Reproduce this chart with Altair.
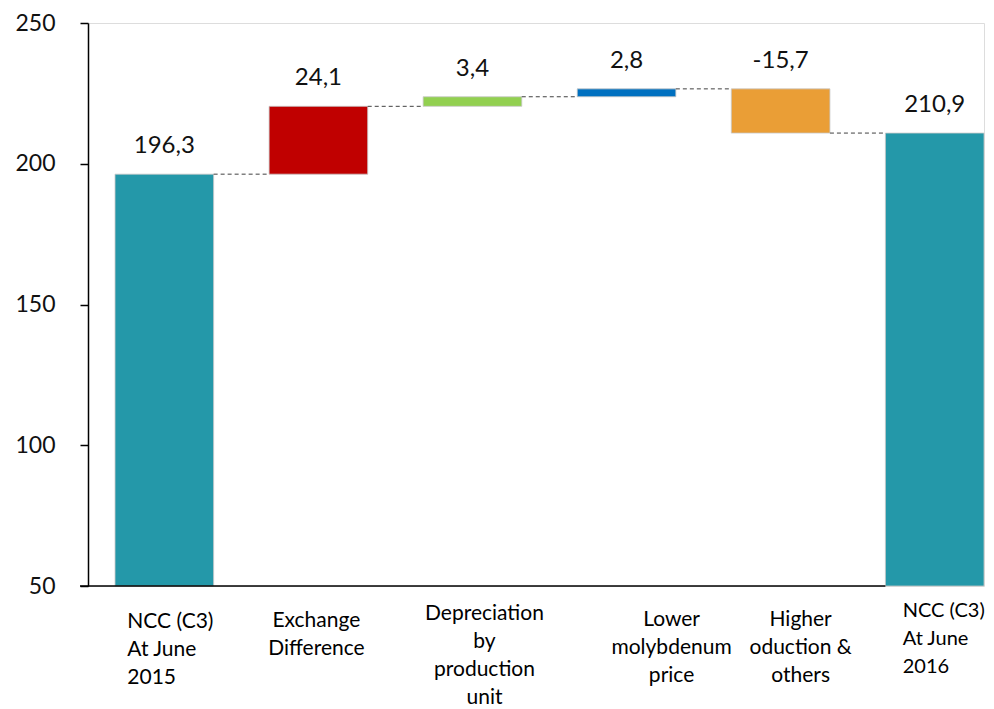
import json
import altair as alt
import pandas as pd

# ---- data ----
categories = [
    "NCC (C3)|At June|2015",
    "Exchange|Difference",
    "Depreciation|by|production|unit",
    "Lower|molybdenum|price",
    "Higher|oduction &|others",
    "NCC (C3)|At June|2016",
]
values = [196.3, 24.1, 3.4, 2.8, -15.7, 210.9]
kinds = ["total", "delta", "delta", "delta", "delta", "total"]
value_labels = ["196,3", "24,1", "3,4", "2,8", "-15,7", "210,9"]
y_ticks = [50, 100, 150, 200, 250]
axis_floor = 50

# ---- styles ----
colors = ["#2498A9", "#C00000", "#92D050", "#0070C0", "#EA9E36", "#2498A9"]
label_offsets = [-37, -2, 12, 45, 20, -32]
label_paddings = [24, 23, 16, 22, 22, 14]
label_aligns = ["left", "center", "center", "center", "center", "left"]
label_sizes = [21, 21, 21, 21, 21, 20]
FONT = "Lato"

starts, ends = [], []
running = 0.0
for v, k in zip(values, kinds):
    if k == "total":
        s, e = axis_floor, v
        running = v
    else:
        s, e = running, running + v
        running = e
    starts.append(s)
    ends.append(e)

df = pd.DataFrame({
    "cat": categories,
    "start": starts,
    "end": ends,
    "top": [max(a, b) for a, b in zip(starts, ends)],
    "label": value_labels,
})

conn = pd.DataFrame({
    "cat": categories[:-1],
    "nxt": categories[1:],
    "level": ends[:-1],
})

base_df = pd.DataFrame({"cat": [categories[-1]], "level": [axis_floor]})

cats_js = json.dumps(categories)


def by_cat(lst):
    return {"expr": f"{json.dumps(lst)}[indexof({cats_js}, datum.value)]"}


x_scale = alt.Scale(domain=categories, paddingInner=0.36, paddingOuter=0.0877, align=1)
y_scale = alt.Scale(domain=[50, 250], nice=False, zero=False)

x_axis = alt.Axis(
    title=None, ticks=False, domain=False, labelAngle=0,
    labelFont=FONT, labelLineHeight=28, labelColor="#000000",
    labelBaseline="top", labelOverlap=False, labelLimit=0,
    labelExpr="split(datum.label, '|')",
    labelFontSize=by_cat(label_sizes),
    labelPadding=by_cat(label_paddings),
    labelOffset=by_cat(label_offsets),
    labelAlign=by_cat(label_aligns),
)
y_axis = alt.Axis(
    title=None, values=y_ticks, grid=False, tickSize=8, labelPadding=25,
    domainColor="#000000", tickColor="#000000", domainWidth=1.5, tickWidth=1.5,
    labelFont=FONT, labelFontSize=23, labelColor="#111111",
)

bars = alt.Chart(df).mark_bar(stroke="#c8c8c8", strokeWidth=0.8).encode(
    x=alt.X("cat:N", scale=x_scale, axis=x_axis, sort=categories),
    y=alt.Y("start:Q", scale=y_scale, axis=y_axis),
    y2="end:Q",
    color=alt.Color("cat:N", scale=alt.Scale(domain=categories, range=colors), legend=None),
)

texts = alt.Chart(df).mark_text(
    font=FONT, fontSize=24, baseline="middle", dy=-28, color="#111111"
).encode(
    x=alt.X("cat:N", sort=categories),
    y=alt.Y("top:Q"),
    text="label:N",
)

connectors = alt.Chart(conn).mark_rule(
    color="#404040", strokeDash=[4, 3], strokeWidth=1
).encode(
    x=alt.X("cat:N", bandPosition=1, sort=categories),
    x2=alt.X2("nxt:N", bandPosition=0),
    y="level:Q",
)

baseline = alt.Chart(base_df).mark_rule(color="#000000", strokeWidth=1.5).encode(
    x=alt.X("cat:N", bandPosition=0, sort=categories),
    x2=alt.value(-8),
    y="level:Q",
)

chart = alt.layer(bars, connectors, baseline, texts).properties(
    width=896, height=563,
    autosize=alt.AutoSizeParams(type="none"),
    padding={"left": 80, "top": 15, "right": 2, "bottom": 121},
).configure_view(stroke=None).configure(background="white")

chart.save("out.html", embed_options={"renderer": "svg", "actions": False})
